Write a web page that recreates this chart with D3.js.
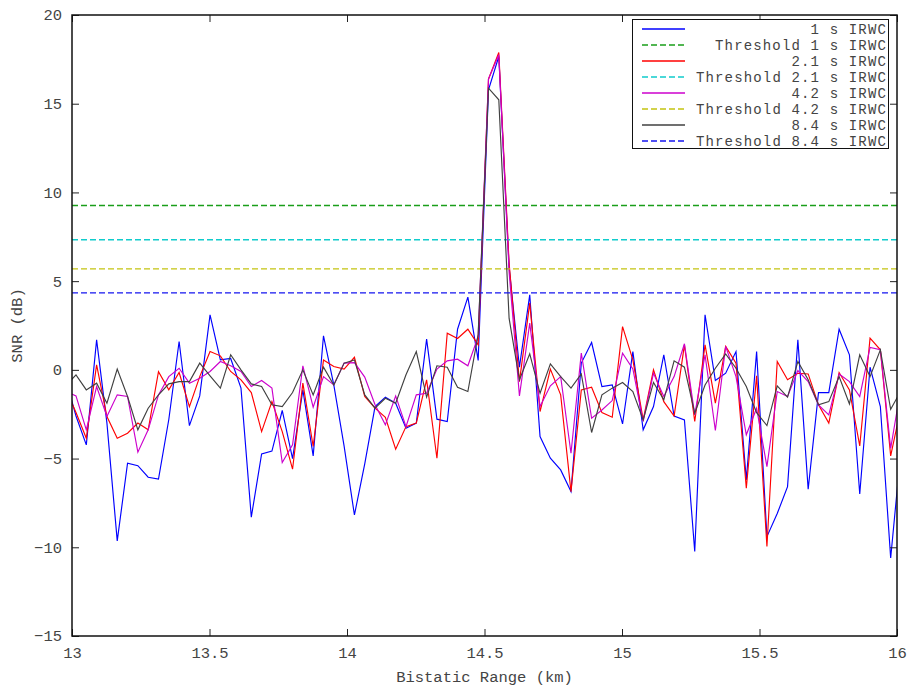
<!DOCTYPE html>
<html>
<head>
<meta charset="utf-8">
<script src="https://cdn.jsdelivr.net/npm/d3@7"></script>
<style>
  html, body { margin: 0; padding: 0; background: #fff; }
  svg { display: block; }
  text { font-family: "Liberation Mono", "DejaVu Sans Mono", monospace; fill: #444; }
</style>
</head>
<body>
<svg id="chart" width="909" height="688"></svg>
<script>
// ---- data ----
const rangeStart = 12.977;   // first range bin (km), just left of the axis
const rangeStep = 0.0375;    // range bin spacing (km)

const snr1s = [-0.5, -2.6, -4.23, 1.69, -3.0, -9.64, -5.26, -5.4, -6.05, -6.15, -2.8, 1.6, -3.14, -1.47, 3.1, 0.56, 0.64, -1.03, -8.3, -4.74, -4.58, -2.29, -5.0, -1.13, -4.85, 1.92, -0.85, -4.3, -8.18, -5.3, -2.07, -1.54, -1.88, -3.29, -3.0, 1.73, -2.78, -2.91, 2.29, 4.1, 0.53, 15.78, 17.66, 5.8, 0.15, 4.23, -3.76, -4.98, -5.64, -6.86, 0.38, 1.54, -0.94, -0.85, -3.05, 1.03, -3.38, -2.07, 0.85, -2.6, -2.82, -10.24, 3.1, -0.6, -0.19, 1.03, -6.2, 1.03, -9.4, -8.1, -6.58, 1.69, -6.73, -1.28, -1.28, 2.29, 0.85, -7.0, 0.15, -2.07, -10.6, -4.5];
const snr21s = [-1.07, -2.4, -3.85, 0.28, -2.63, -3.85, -3.57, -3.0, -3.38, -0.1, -1.13, -0.15, -2.07, -0.38, 1.03, 0.79, -0.09, -0.56, -1.28, -3.48, -1.79, -3.48, -5.6, -0.75, -4.32, 0.56, 0.19, 0.04, 0.71, -1.5, -2.16, -2.67, -4.47, -3.2, -3.0, -0.56, -4.98, 2.07, 1.77, 2.29, 1.41, 16.38, 17.89, 6.0, -0.66, 3.76, -2.35, 0.04, -1.41, -6.86, -1.13, -0.98, -2.41, -2.67, 2.44, 0.56, -2.82, 0.0, -1.79, -2.6, 1.41, -2.91, 1.41, -1.88, 1.32, 0.38, -6.67, -0.34, -9.96, 0.47, -0.56, -0.19, -0.23, -1.97, -3.0, -0.15, -1.13, -4.29, 1.79, 1.13, -4.85, -2.1];
const snr42s = [-1.2, -1.47, -3.38, -0.94, -2.63, -1.41, -1.5, -4.64, -3.38, -1.41, -0.38, 0.09, -0.75, -0.47, -0.09, 0.47, 0.23, -0.09, -0.94, -0.6, -1.03, -5.22, -4.23, 0.23, -2.1, -0.38, -0.85, 0.38, 0.41, -0.41, -1.97, -3.1, -1.47, -3.2, -1.41, -1.32, 0.04, 0.51, 0.6, 0.23, 1.88, 16.4, 17.76, 5.5, -1.47, 2.63, -2.07, -0.9, -0.38, -4.7, 0.94, -2.73, -2.26, -1.73, 0.94, 0.05, -2.91, -0.19, -1.5, -0.38, 1.47, -2.54, 0.85, -3.42, 1.32, -0.38, -3.66, -2.16, -5.45, -1.22, -1.5, -0.04, -0.66, -1.97, -2.54, -0.23, -0.66, -1.5, 1.26, 1.13, -4.42, -0.98];
const snr84s = [-0.9, -0.28, -1.13, -0.75, -1.88, 0.04, -1.5, -3.38, -2.16, -1.41, -0.79, -0.66, -0.66, 0.38, -0.34, -1.03, 0.85, 0.0, -0.79, -0.94, -1.97, -2.07, -1.28, 0.0, -1.41, 0.15, -0.85, 0.38, 0.56, -1.41, -2.16, -1.6, -1.88, -0.28, 1.03, -1.54, 0.23, 0.15, -0.98, -1.22, 2.0, 15.88, 15.22, 2.9, -0.56, 0.9, -1.32, 0.34, -0.38, -1.03, -0.23, -3.53, -1.41, -1.03, -0.71, -1.22, -2.82, -0.71, -1.69, 0.51, 0.15, -2.44, -0.85, 0.09, 0.9, 0.09, -0.94, -2.41, -3.14, -0.9, -1.54, 0.47, -0.56, -1.97, -1.79, -0.38, -1.92, 0.85, -0.38, 1.13, -2.22, -1.18];

const thresholds = [9.26, 7.33, 5.69, 4.34];
const seriesLabels = ["1 s IRWC", "2.1 s IRWC", "4.2 s IRWC", "8.4 s IRWC"];
const thresholdLabels = ["Threshold 1 s IRWC", "Threshold 2.1 s IRWC", "Threshold 4.2 s IRWC", "Threshold 8.4 s IRWC"];
const xTicks = [13, 13.5, 14, 14.5, 15, 15.5, 16];
const yTicks = [-15, -10, -5, 0, 5, 10, 15, 20];

// ---- style ----
const lineColors = ["#0000ff", "#ff0000", "#cc00cc", "#404040"];
const threshColors = ["#1a9e1a", "#10cccc", "#c4c410", "#1414f0"];

const m = { left: 72, right: 897, top: 15, bottom: 636 };

const svg = d3.select("#chart");
const x = d3.scaleLinear().domain([13, 16]).range([m.left, m.right]);
const y = d3.scaleLinear().domain([-15, 20]).range([m.bottom, m.top]);

svg.append("defs").append("clipPath").attr("id", "clip")
  .append("rect").attr("x", m.left).attr("y", m.top)
  .attr("width", m.right - m.left).attr("height", m.bottom - m.top);

const series = [snr1s, snr21s, snr42s, snr84s];
const g = svg.append("g").attr("clip-path", "url(#clip)");

const line = d3.line()
  .x((d, i) => x(rangeStart + rangeStep * i))
  .y(d => y(d));

series.forEach((s, k) => {
  g.append("path")
    .datum(s)
    .attr("d", line)
    .attr("fill", "none")
    .attr("stroke", lineColors[k])
    .attr("stroke-width", 1.15);
  g.append("line")
    .attr("x1", m.left).attr("x2", m.right)
    .attr("y1", y(thresholds[k])).attr("y2", y(thresholds[k]))
    .attr("stroke", threshColors[k])
    .attr("stroke-width", 1.4)
    .attr("stroke-dasharray", "6,3");
});

// ---- axes ----
const tickLen = 7;
const fmt = d => d < 0 ? "\u2212" + Math.abs(d) : String(d);
const axB = svg.append("g").attr("transform", `translate(0,${m.bottom})`)
  .call(d3.axisBottom(x).tickValues(xTicks).tickSizeInner(-tickLen).tickSizeOuter(0).tickFormat(fmt));
const axT = svg.append("g").attr("transform", `translate(0,${m.top})`)
  .call(d3.axisTop(x).tickValues(xTicks).tickSizeInner(-tickLen).tickSizeOuter(0).tickFormat(""));
const axL = svg.append("g").attr("transform", `translate(${m.left},0)`)
  .call(d3.axisLeft(y).tickValues(yTicks).tickSizeInner(-tickLen).tickSizeOuter(0).tickPadding(10).tickFormat(fmt));
const axR = svg.append("g").attr("transform", `translate(${m.right},0)`)
  .call(d3.axisRight(y).tickValues(yTicks).tickSizeInner(-tickLen).tickSizeOuter(0).tickFormat(""));

[axB, axT, axL, axR].forEach(a => {
  a.select(".domain").remove();
  a.selectAll(".tick line").attr("stroke", "#222").attr("stroke-width", 1);
  a.selectAll("text").attr("font-size", 15.5).attr("fill", "#444")
    .attr("font-family", "Liberation Mono, DejaVu Sans Mono, monospace");
});
axB.selectAll("text").attr("y", 17).attr("dy", "0.35em");

svg.append("rect")
  .attr("x", m.left).attr("y", m.top)
  .attr("width", m.right - m.left).attr("height", m.bottom - m.top)
  .attr("fill", "none").attr("stroke", "#111").attr("stroke-width", 1.5);

// axis titles
svg.append("text")
  .attr("x", (m.left + m.right) / 2).attr("y", 682)
  .attr("text-anchor", "middle").attr("font-size", 15.5)
  .text("Bistatic Range (km)");
svg.append("text")
  .attr("transform", `translate(22,${(m.top + m.bottom) / 2}) rotate(-90)`)
  .attr("text-anchor", "middle").attr("font-size", 15.5)
  .text("SNR (dB)");

// ---- legend ----
const lg = svg.append("g");
lg.append("rect").attr("x", 632.5).attr("y", 19.5).attr("width", 256).attr("height", 129)
  .attr("fill", "#fff").attr("stroke", "#111").attr("stroke-width", 1);
const entries = [];
seriesLabels.forEach((lab, k) => {
  entries.push({ label: lab, color: lineColors[k], dash: null, w: 1.3 });
  entries.push({ label: thresholdLabels[k], color: threshColors[k], dash: "6,3", w: 1.5 });
});
entries.forEach((e, i) => {
  const cy = 29 + 16 * i;
  lg.append("line").attr("x1", 642).attr("x2", 685).attr("y1", cy).attr("y2", cy)
    .attr("stroke", e.color).attr("stroke-width", e.w)
    .attr("stroke-dasharray", e.dash);
  lg.append("text").attr("x", 887).attr("y", cy).attr("dy", "0.35em")
    .attr("text-anchor", "end").attr("font-size", 14)
    .attr("letter-spacing", 1.15)
    .text(e.label);
});
</script>
</body>
</html>
